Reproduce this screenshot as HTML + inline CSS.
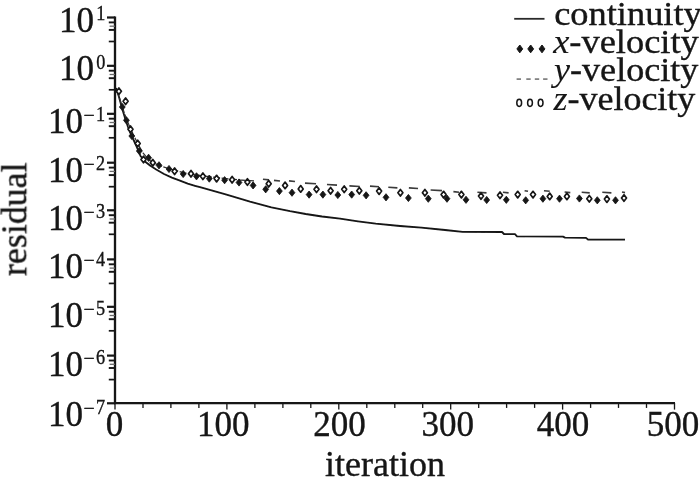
<!DOCTYPE html>
<html><head><meta charset="utf-8"><title>residual</title>
<style>html,body{margin:0;padding:0;background:#fff;}body{width:700px;height:477px;overflow:hidden;}svg{display:block;}text{font-family:"Liberation Serif",serif;fill:#141414;stroke:#141414;stroke-width:0.35px;}</style>
</head><body>
<svg width="700" height="477" viewBox="0 0 700 477">
<defs><filter id="bl" x="-5%" y="-5%" width="110%" height="110%"><feGaussianBlur stdDeviation="0.45"/></filter></defs>
<rect width="700" height="477" fill="#fff"/>
<g filter="url(#bl)">
<line x1="115.0" y1="16.599999999999998" x2="115.0" y2="404" stroke="#141414" stroke-width="2.3"/>
<line x1="114.0" y1="403.2" x2="675" y2="403.2" stroke="#141414" stroke-width="2.2"/>
<line x1="115.0" y1="403" x2="115.0" y2="409.6" stroke="#141414" stroke-width="1.3"/>
<line x1="143.0" y1="403" x2="143.0" y2="407.9" stroke="#141414" stroke-width="1.3"/>
<line x1="170.9" y1="403" x2="170.9" y2="407.9" stroke="#141414" stroke-width="1.3"/>
<line x1="198.9" y1="403" x2="198.9" y2="407.9" stroke="#141414" stroke-width="1.3"/>
<line x1="226.9" y1="403" x2="226.9" y2="409.6" stroke="#141414" stroke-width="1.3"/>
<line x1="254.9" y1="403" x2="254.9" y2="407.9" stroke="#141414" stroke-width="1.3"/>
<line x1="282.9" y1="403" x2="282.9" y2="407.9" stroke="#141414" stroke-width="1.3"/>
<line x1="310.8" y1="403" x2="310.8" y2="407.9" stroke="#141414" stroke-width="1.3"/>
<line x1="338.8" y1="403" x2="338.8" y2="409.6" stroke="#141414" stroke-width="1.3"/>
<line x1="366.8" y1="403" x2="366.8" y2="407.9" stroke="#141414" stroke-width="1.3"/>
<line x1="394.8" y1="403" x2="394.8" y2="407.9" stroke="#141414" stroke-width="1.3"/>
<line x1="422.7" y1="403" x2="422.7" y2="407.9" stroke="#141414" stroke-width="1.3"/>
<line x1="450.7" y1="403" x2="450.7" y2="409.6" stroke="#141414" stroke-width="1.3"/>
<line x1="478.7" y1="403" x2="478.7" y2="407.9" stroke="#141414" stroke-width="1.3"/>
<line x1="506.6" y1="403" x2="506.6" y2="407.9" stroke="#141414" stroke-width="1.3"/>
<line x1="534.6" y1="403" x2="534.6" y2="407.9" stroke="#141414" stroke-width="1.3"/>
<line x1="562.6" y1="403" x2="562.6" y2="409.6" stroke="#141414" stroke-width="1.3"/>
<line x1="590.6" y1="403" x2="590.6" y2="407.9" stroke="#141414" stroke-width="1.3"/>
<line x1="618.5" y1="403" x2="618.5" y2="407.9" stroke="#141414" stroke-width="1.3"/>
<line x1="646.5" y1="403" x2="646.5" y2="407.9" stroke="#141414" stroke-width="1.3"/>
<line x1="674.5" y1="403" x2="674.5" y2="409.6" stroke="#141414" stroke-width="1.3"/>
<line x1="107" y1="17.5" x2="115.0" y2="17.5" stroke="#141414" stroke-width="2.2"/>
<line x1="108.8" y1="22.4" x2="115.0" y2="22.4" stroke="#141414" stroke-width="1.9"/>
<line x1="109.6" y1="26.2" x2="115.0" y2="26.2" stroke="#6a6a6a" stroke-width="1.3"/>
<line x1="108.8" y1="29.9" x2="115.0" y2="29.9" stroke="#141414" stroke-width="1.9"/>
<line x1="108.8" y1="41.5" x2="115.0" y2="41.5" stroke="#141414" stroke-width="1.7"/>
<line x1="107" y1="65.8" x2="115.0" y2="65.8" stroke="#141414" stroke-width="2.2"/>
<line x1="108.8" y1="70.7" x2="115.0" y2="70.7" stroke="#141414" stroke-width="1.9"/>
<line x1="109.6" y1="74.5" x2="115.0" y2="74.5" stroke="#6a6a6a" stroke-width="1.3"/>
<line x1="108.8" y1="78.2" x2="115.0" y2="78.2" stroke="#141414" stroke-width="1.9"/>
<line x1="108.8" y1="89.8" x2="115.0" y2="89.8" stroke="#141414" stroke-width="1.7"/>
<line x1="107" y1="113.8" x2="115.0" y2="113.8" stroke="#141414" stroke-width="2.2"/>
<line x1="108.8" y1="118.7" x2="115.0" y2="118.7" stroke="#141414" stroke-width="1.9"/>
<line x1="109.6" y1="122.5" x2="115.0" y2="122.5" stroke="#6a6a6a" stroke-width="1.3"/>
<line x1="108.8" y1="126.2" x2="115.0" y2="126.2" stroke="#141414" stroke-width="1.9"/>
<line x1="108.8" y1="137.8" x2="115.0" y2="137.8" stroke="#141414" stroke-width="1.7"/>
<line x1="107" y1="162.7" x2="115.0" y2="162.7" stroke="#141414" stroke-width="2.2"/>
<line x1="108.8" y1="167.6" x2="115.0" y2="167.6" stroke="#141414" stroke-width="1.9"/>
<line x1="109.6" y1="171.4" x2="115.0" y2="171.4" stroke="#6a6a6a" stroke-width="1.3"/>
<line x1="108.8" y1="175.1" x2="115.0" y2="175.1" stroke="#141414" stroke-width="1.9"/>
<line x1="108.8" y1="186.7" x2="115.0" y2="186.7" stroke="#141414" stroke-width="1.7"/>
<line x1="107" y1="210.3" x2="115.0" y2="210.3" stroke="#141414" stroke-width="2.2"/>
<line x1="108.8" y1="215.2" x2="115.0" y2="215.2" stroke="#141414" stroke-width="1.9"/>
<line x1="109.6" y1="219.0" x2="115.0" y2="219.0" stroke="#6a6a6a" stroke-width="1.3"/>
<line x1="108.8" y1="222.7" x2="115.0" y2="222.7" stroke="#141414" stroke-width="1.9"/>
<line x1="108.8" y1="234.3" x2="115.0" y2="234.3" stroke="#141414" stroke-width="1.7"/>
<line x1="107" y1="259.4" x2="115.0" y2="259.4" stroke="#141414" stroke-width="2.2"/>
<line x1="108.8" y1="264.3" x2="115.0" y2="264.3" stroke="#141414" stroke-width="1.9"/>
<line x1="109.6" y1="268.1" x2="115.0" y2="268.1" stroke="#6a6a6a" stroke-width="1.3"/>
<line x1="108.8" y1="271.8" x2="115.0" y2="271.8" stroke="#141414" stroke-width="1.9"/>
<line x1="108.8" y1="283.4" x2="115.0" y2="283.4" stroke="#141414" stroke-width="1.7"/>
<line x1="107" y1="306.8" x2="115.0" y2="306.8" stroke="#141414" stroke-width="2.2"/>
<line x1="108.8" y1="311.7" x2="115.0" y2="311.7" stroke="#141414" stroke-width="1.9"/>
<line x1="109.6" y1="315.5" x2="115.0" y2="315.5" stroke="#6a6a6a" stroke-width="1.3"/>
<line x1="108.8" y1="319.2" x2="115.0" y2="319.2" stroke="#141414" stroke-width="1.9"/>
<line x1="108.8" y1="330.8" x2="115.0" y2="330.8" stroke="#141414" stroke-width="1.7"/>
<line x1="107" y1="355.6" x2="115.0" y2="355.6" stroke="#141414" stroke-width="2.2"/>
<line x1="108.8" y1="360.5" x2="115.0" y2="360.5" stroke="#141414" stroke-width="1.9"/>
<line x1="109.6" y1="364.3" x2="115.0" y2="364.3" stroke="#6a6a6a" stroke-width="1.3"/>
<line x1="108.8" y1="368.0" x2="115.0" y2="368.0" stroke="#141414" stroke-width="1.9"/>
<line x1="108.8" y1="379.6" x2="115.0" y2="379.6" stroke="#141414" stroke-width="1.7"/>
<line x1="107" y1="403.3" x2="115.0" y2="403.3" stroke="#141414" stroke-width="2.2"/>
<text x="59" y="31.8" font-size="35">10</text>
<text transform="translate(96.2,20.3) scale(0.92,1.09)" font-size="19.8">1</text>
<text x="59" y="80.3" font-size="35">10</text>
<text transform="translate(96.2,68.8) scale(0.92,1.09)" font-size="19.8">0</text>
<text x="48" y="133.2" font-size="35">10</text>
<text x="83.5" y="122.1" font-size="19.8">−</text>
<text transform="translate(95.9,121.2) scale(0.92,1.09)" font-size="19.8">1</text>
<text x="48" y="182.2" font-size="35">10</text>
<text x="83.5" y="171.1" font-size="19.8">−</text>
<text transform="translate(95.9,170.2) scale(0.92,1.09)" font-size="19.8">2</text>
<text x="48" y="230" font-size="35">10</text>
<text x="83.5" y="218.9" font-size="19.8">−</text>
<text transform="translate(95.9,218.0) scale(0.92,1.09)" font-size="19.8">3</text>
<text x="48" y="278.2" font-size="35">10</text>
<text x="83.5" y="267.09999999999997" font-size="19.8">−</text>
<text transform="translate(95.9,266.2) scale(0.92,1.09)" font-size="19.8">4</text>
<text x="48" y="327.2" font-size="35">10</text>
<text x="83.5" y="316.09999999999997" font-size="19.8">−</text>
<text transform="translate(95.9,315.2) scale(0.92,1.09)" font-size="19.8">5</text>
<text x="48" y="376.3" font-size="35">10</text>
<text x="83.5" y="365.2" font-size="19.8">−</text>
<text transform="translate(95.9,364.3) scale(0.92,1.09)" font-size="19.8">6</text>
<text x="48" y="425.6" font-size="35">10</text>
<text x="83.5" y="414.5" font-size="19.8">−</text>
<text transform="translate(95.9,413.6) scale(0.92,1.09)" font-size="19.8">7</text>
<text x="114.5" y="436.2" font-size="35" text-anchor="middle">0</text>
<text x="223.3" y="436.2" font-size="35" text-anchor="middle">100</text>
<text x="339.6" y="436.2" font-size="35" text-anchor="middle">200</text>
<text x="447.8" y="436.2" font-size="35" text-anchor="middle">300</text>
<text x="563" y="436.2" font-size="35" text-anchor="middle">400</text>
<text x="673" y="436.2" font-size="35" text-anchor="middle">500</text>
<text transform="translate(325.0,475.6) scale(1.03,1)" font-size="35">iteration</text>
<text transform="translate(26.3,219.2) rotate(-90) scale(1.025,1)" font-size="35" text-anchor="middle">residual</text>
<line x1="514.2" y1="18.8" x2="544.5" y2="18.8" stroke="#2a2a2a" stroke-width="1.8"/>
<text transform="translate(554.2,25.3) scale(1.0866,1)" font-size="33.5">continuity</text>
<path d="M519.8,45.0 L522.6999999999999,48.9 L519.8,52.8 L516.9,48.9 Z" fill="#141414" stroke="#141414" stroke-width="1" stroke-linejoin="round"/>
<path d="M530.7,45.0 L533.6,48.9 L530.7,52.8 L527.8000000000001,48.9 Z" fill="#141414" stroke="#141414" stroke-width="1" stroke-linejoin="round"/>
<path d="M542.0,45.0 L544.9,48.9 L542.0,52.8 L539.1,48.9 Z" fill="#141414" stroke="#141414" stroke-width="1" stroke-linejoin="round"/>
<text transform="translate(553.2,53.1) scale(1.0866,1)" font-size="33.5"><tspan font-style="italic" stroke-width="0.1">x</tspan>-velocity</text>
<line x1="516.5999999999999" y1="79.1" x2="521.0" y2="79.1" stroke="#7c7c7c" stroke-width="1.7"/>
<line x1="526.3" y1="79.1" x2="530.7" y2="79.1" stroke="#7c7c7c" stroke-width="1.7"/>
<line x1="534.8" y1="79.1" x2="539.2" y2="79.1" stroke="#7c7c7c" stroke-width="1.7"/>
<line x1="543.0999999999999" y1="79.1" x2="547.5" y2="79.1" stroke="#7c7c7c" stroke-width="1.7"/>
<text transform="translate(554,81.1) scale(1.078,1)" font-size="33.5"><tspan font-style="italic" stroke-width="0.1">y</tspan>-velocity</text>
<ellipse cx="519.2" cy="102.8" rx="2.4" ry="3.6" fill="#fff" stroke="#141414" stroke-width="1.5"/>
<ellipse cx="530.0" cy="102.8" rx="2.4" ry="3.6" fill="#fff" stroke="#141414" stroke-width="1.5"/>
<ellipse cx="540.6" cy="102.8" rx="2.4" ry="3.6" fill="#fff" stroke="#141414" stroke-width="1.5"/>
<text transform="translate(553.5,110.3) scale(1.074,1)" font-size="33.5"><tspan font-style="italic" stroke-width="0.1">z</tspan>-velocity</text>
<polyline fill="none" stroke="#141414" stroke-width="1.8" stroke-linejoin="round" points="116,88 119,97 122,108 125,118 128,127 131,134.5 135,143 138,150 140.5,156 145,161.5 150,165.5 156.2,169.5 164,174 171.9,177.6 180,180.6 187.7,183.6 195,185.8 200,187.2 225.7,194.4 250,201.6 271.4,207.4 290,211.2 305.7,214 322,216.5 340,218.6 358,221.3 375.7,223.6 400,226 421.4,227.7 445,230 462.6,231.8 502,232 504,234 515,234.2 517,236.3 563,236.6 565,237.6 586,237.8 588,239.6 625,239.7"/>
<line x1="263" y1="179.3" x2="269" y2="179.9" stroke="#3a3a3a" stroke-width="1.6"/>
<line x1="274" y1="180.4" x2="280" y2="181.0" stroke="#3a3a3a" stroke-width="1.6"/>
<line x1="289" y1="180.9" x2="295" y2="181.5" stroke="#3a3a3a" stroke-width="1.6"/>
<line x1="305" y1="183.1" x2="316" y2="183.7" stroke="#3a3a3a" stroke-width="1.6"/>
<line x1="327" y1="184.5" x2="337" y2="185.1" stroke="#3a3a3a" stroke-width="1.6"/>
<line x1="349.4" y1="185.9" x2="359.7" y2="186.5" stroke="#3a3a3a" stroke-width="1.6"/>
<line x1="370" y1="186.1" x2="379" y2="186.7" stroke="#3a3a3a" stroke-width="1.6"/>
<line x1="388.3" y1="187.3" x2="397.4" y2="187.9" stroke="#3a3a3a" stroke-width="1.6"/>
<line x1="408.9" y1="187.9" x2="418" y2="188.5" stroke="#3a3a3a" stroke-width="1.6"/>
<line x1="430.6" y1="190" x2="442" y2="190.6" stroke="#3a3a3a" stroke-width="1.6"/>
<line x1="453.4" y1="191.6" x2="459" y2="192.2" stroke="#3a3a3a" stroke-width="1.6"/>
<line x1="477.4" y1="192.3" x2="486.5" y2="192.9" stroke="#3a3a3a" stroke-width="1.6"/>
<line x1="502.9" y1="192.3" x2="508.6" y2="192.9" stroke="#3a3a3a" stroke-width="1.6"/>
<line x1="524.6" y1="190.7" x2="528" y2="191.29999999999998" stroke="#3a3a3a" stroke-width="1.6"/>
<line x1="544" y1="190.7" x2="549.7" y2="191.29999999999998" stroke="#3a3a3a" stroke-width="1.6"/>
<line x1="564.6" y1="192" x2="570.3" y2="192.6" stroke="#3a3a3a" stroke-width="1.6"/>
<line x1="581.7" y1="192.3" x2="589.7" y2="192.9" stroke="#3a3a3a" stroke-width="1.6"/>
<line x1="602.3" y1="192.3" x2="611.4" y2="192.9" stroke="#3a3a3a" stroke-width="1.6"/>
<line x1="622" y1="192" x2="625" y2="192.6" stroke="#3a3a3a" stroke-width="1.6"/>
<polyline fill="none" stroke="#333" stroke-width="1.3" stroke-dasharray="7 1.5" points="117,90 121,103 125,115 129,125 133,134 138,144 143,153 149,160 158,165 170,169 185,173 200,175.5 220,178 240,180 255,181"/>
<path d="M118.9,87.9 L121.4,91.2 L118.9,94.5 L116.4,91.2 Z" fill="#fff" stroke="#141414" stroke-width="1.7" stroke-linejoin="round"/>
<path d="M125.6,97.9 L128.1,101.2 L125.6,104.5 L123.1,101.2 Z" fill="#fff" stroke="#141414" stroke-width="1.7" stroke-linejoin="round"/>
<path d="M130.5,125.9 L133.0,129.2 L130.5,132.5 L128.0,129.2 Z" fill="#fff" stroke="#141414" stroke-width="1.7" stroke-linejoin="round"/>
<path d="M137.7,140.2 L140.2,143.5 L137.7,146.8 L135.2,143.5 Z" fill="#fff" stroke="#141414" stroke-width="1.7" stroke-linejoin="round"/>
<path d="M143.5,156.2 L146.0,159.5 L143.5,162.8 L141.0,159.5 Z" fill="#fff" stroke="#141414" stroke-width="1.7" stroke-linejoin="round"/>
<path d="M152.8,159.5 L155.3,162.8 L152.8,166.1 L150.3,162.8 Z" fill="#fff" stroke="#141414" stroke-width="1.7" stroke-linejoin="round"/>
<path d="M174.6,167.9 L177.1,171.2 L174.6,174.5 L172.1,171.2 Z" fill="#fff" stroke="#141414" stroke-width="1.7" stroke-linejoin="round"/>
<path d="M191,170.5 L193.5,173.8 L191,177.1 L188.5,173.8 Z" fill="#fff" stroke="#141414" stroke-width="1.7" stroke-linejoin="round"/>
<path d="M202.9,173.0 L205.4,176.3 L202.9,179.6 L200.4,176.3 Z" fill="#fff" stroke="#141414" stroke-width="1.7" stroke-linejoin="round"/>
<path d="M216.6,175.3 L219.1,178.6 L216.6,181.9 L214.1,178.6 Z" fill="#fff" stroke="#141414" stroke-width="1.7" stroke-linejoin="round"/>
<path d="M232.1,176.4 L234.6,179.7 L232.1,183.0 L229.6,179.7 Z" fill="#fff" stroke="#141414" stroke-width="1.7" stroke-linejoin="round"/>
<path d="M247.4,178.7 L249.9,182 L247.4,185.3 L244.9,182 Z" fill="#fff" stroke="#141414" stroke-width="1.7" stroke-linejoin="round"/>
<path d="M268.7,180.5 L271.2,183.8 L268.7,187.1 L266.2,183.8 Z" fill="#fff" stroke="#141414" stroke-width="1.7" stroke-linejoin="round"/>
<path d="M285.1,182.1 L287.6,185.4 L285.1,188.7 L282.6,185.4 Z" fill="#fff" stroke="#141414" stroke-width="1.7" stroke-linejoin="round"/>
<path d="M300.7,185.6 L303.2,188.9 L300.7,192.2 L298.2,188.9 Z" fill="#fff" stroke="#141414" stroke-width="1.7" stroke-linejoin="round"/>
<path d="M316.5,186.0 L319.0,189.3 L316.5,192.6 L314.0,189.3 Z" fill="#fff" stroke="#141414" stroke-width="1.7" stroke-linejoin="round"/>
<path d="M330.6,187.5 L333.1,190.8 L330.6,194.1 L328.1,190.8 Z" fill="#fff" stroke="#141414" stroke-width="1.7" stroke-linejoin="round"/>
<path d="M344.2,186.0 L346.7,189.3 L344.2,192.6 L341.7,189.3 Z" fill="#fff" stroke="#141414" stroke-width="1.7" stroke-linejoin="round"/>
<path d="M359.3,187.4 L361.8,190.7 L359.3,194.0 L356.8,190.7 Z" fill="#fff" stroke="#141414" stroke-width="1.7" stroke-linejoin="round"/>
<path d="M379.1,187.8 L381.6,191.1 L379.1,194.4 L376.6,191.1 Z" fill="#fff" stroke="#141414" stroke-width="1.7" stroke-linejoin="round"/>
<path d="M400.4,189.4 L402.9,192.7 L400.4,196.0 L397.9,192.7 Z" fill="#fff" stroke="#141414" stroke-width="1.7" stroke-linejoin="round"/>
<path d="M424.9,189.4 L427.4,192.7 L424.9,196.0 L422.4,192.7 Z" fill="#fff" stroke="#141414" stroke-width="1.7" stroke-linejoin="round"/>
<path d="M443.6,191.3 L446.1,194.6 L443.6,197.9 L441.1,194.6 Z" fill="#fff" stroke="#141414" stroke-width="1.7" stroke-linejoin="round"/>
<path d="M461.4,191.3 L463.9,194.6 L461.4,197.9 L458.9,194.6 Z" fill="#fff" stroke="#141414" stroke-width="1.7" stroke-linejoin="round"/>
<path d="M481,192.7 L483.5,196 L481,199.3 L478.5,196 Z" fill="#fff" stroke="#141414" stroke-width="1.7" stroke-linejoin="round"/>
<path d="M500,192.0 L502.5,195.3 L500,198.6 L497.5,195.3 Z" fill="#fff" stroke="#141414" stroke-width="1.7" stroke-linejoin="round"/>
<path d="M517.7,191.3 L520.2,194.6 L517.7,197.9 L515.2,194.6 Z" fill="#fff" stroke="#141414" stroke-width="1.7" stroke-linejoin="round"/>
<path d="M533,191.3 L535.5,194.6 L533,197.9 L530.5,194.6 Z" fill="#fff" stroke="#141414" stroke-width="1.7" stroke-linejoin="round"/>
<path d="M549.7,193.1 L552.2,196.4 L549.7,199.7 L547.2,196.4 Z" fill="#fff" stroke="#141414" stroke-width="1.7" stroke-linejoin="round"/>
<path d="M566.9,193.1 L569.4,196.4 L566.9,199.7 L564.4,196.4 Z" fill="#fff" stroke="#141414" stroke-width="1.7" stroke-linejoin="round"/>
<path d="M589.3,195.4 L591.8,198.7 L589.3,202.0 L586.8,198.7 Z" fill="#fff" stroke="#141414" stroke-width="1.7" stroke-linejoin="round"/>
<path d="M606.9,195.8 L609.4,199.1 L606.9,202.4 L604.4,199.1 Z" fill="#fff" stroke="#141414" stroke-width="1.7" stroke-linejoin="round"/>
<path d="M624,194.7 L626.5,198 L624,201.3 L621.5,198 Z" fill="#fff" stroke="#141414" stroke-width="1.7" stroke-linejoin="round"/>
<path d="M122.3,103.4 L125.2,107 L122.3,110.6 L119.4,107 Z" fill="#141414" stroke="#141414" stroke-width="0.8" stroke-linejoin="round"/>
<path d="M126.4,116.7 L129.3,120.3 L126.4,123.9 L123.5,120.3 Z" fill="#141414" stroke="#141414" stroke-width="0.8" stroke-linejoin="round"/>
<path d="M131.8,132.4 L134.7,136 L131.8,139.6 L128.9,136 Z" fill="#141414" stroke="#141414" stroke-width="0.8" stroke-linejoin="round"/>
<path d="M139.3,147.4 L142.2,151 L139.3,154.6 L136.4,151 Z" fill="#141414" stroke="#141414" stroke-width="0.8" stroke-linejoin="round"/>
<path d="M148.6,154.2 L151.5,157.8 L148.6,161.4 L145.7,157.8 Z" fill="#141414" stroke="#141414" stroke-width="0.8" stroke-linejoin="round"/>
<path d="M159,161.7 L161.9,165.3 L159,168.9 L156.1,165.3 Z" fill="#141414" stroke="#141414" stroke-width="0.8" stroke-linejoin="round"/>
<path d="M169,165.4 L171.9,169 L169,172.6 L166.1,169 Z" fill="#141414" stroke="#141414" stroke-width="0.8" stroke-linejoin="round"/>
<path d="M183.2,170.4 L186.1,174 L183.2,177.6 L180.3,174 Z" fill="#141414" stroke="#141414" stroke-width="0.8" stroke-linejoin="round"/>
<path d="M196.5,172.7 L199.4,176.3 L196.5,179.9 L193.6,176.3 Z" fill="#141414" stroke="#141414" stroke-width="0.8" stroke-linejoin="round"/>
<path d="M209.3,175.0 L212.2,178.6 L209.3,182.2 L206.4,178.6 Z" fill="#141414" stroke="#141414" stroke-width="0.8" stroke-linejoin="round"/>
<path d="M224.6,176.6 L227.5,180.2 L224.6,183.8 L221.7,180.2 Z" fill="#141414" stroke="#141414" stroke-width="0.8" stroke-linejoin="round"/>
<path d="M239,178.9 L241.9,182.5 L239,186.1 L236.1,182.5 Z" fill="#141414" stroke="#141414" stroke-width="0.8" stroke-linejoin="round"/>
<path d="M253.1,181.8 L256.0,185.4 L253.1,189.0 L250.2,185.4 Z" fill="#141414" stroke="#141414" stroke-width="0.8" stroke-linejoin="round"/>
<path d="M265.7,185.7 L268.6,189.3 L265.7,192.9 L262.8,189.3 Z" fill="#141414" stroke="#141414" stroke-width="0.8" stroke-linejoin="round"/>
<path d="M279.4,187.5 L282.3,191.1 L279.4,194.7 L276.5,191.1 Z" fill="#141414" stroke="#141414" stroke-width="0.8" stroke-linejoin="round"/>
<path d="M292,189.1 L294.9,192.7 L292,196.3 L289.1,192.7 Z" fill="#141414" stroke="#141414" stroke-width="0.8" stroke-linejoin="round"/>
<path d="M309.1,191.0 L312.0,194.6 L309.1,198.2 L306.2,194.6 Z" fill="#141414" stroke="#141414" stroke-width="0.8" stroke-linejoin="round"/>
<path d="M322.9,191.0 L325.8,194.6 L322.9,198.2 L320.0,194.6 Z" fill="#141414" stroke="#141414" stroke-width="0.8" stroke-linejoin="round"/>
<path d="M337.8,191.4 L340.7,195 L337.8,198.6 L334.9,195 Z" fill="#141414" stroke="#141414" stroke-width="0.8" stroke-linejoin="round"/>
<path d="M351.7,191.0 L354.6,194.6 L351.7,198.2 L348.8,194.6 Z" fill="#141414" stroke="#141414" stroke-width="0.8" stroke-linejoin="round"/>
<path d="M366.1,191.7 L369.0,195.3 L366.1,198.9 L363.2,195.3 Z" fill="#141414" stroke="#141414" stroke-width="0.8" stroke-linejoin="round"/>
<path d="M386,193.7 L388.9,197.3 L386,200.9 L383.1,197.3 Z" fill="#141414" stroke="#141414" stroke-width="0.8" stroke-linejoin="round"/>
<path d="M408.4,194.4 L411.3,198 L408.4,201.6 L405.5,198 Z" fill="#141414" stroke="#141414" stroke-width="0.8" stroke-linejoin="round"/>
<path d="M428.3,195.1 L431.2,198.7 L428.3,202.3 L425.4,198.7 Z" fill="#141414" stroke="#141414" stroke-width="0.8" stroke-linejoin="round"/>
<path d="M447,195.1 L449.9,198.7 L447,202.3 L444.1,198.7 Z" fill="#141414" stroke="#141414" stroke-width="0.8" stroke-linejoin="round"/>
<path d="M466,196.2 L468.9,199.8 L466,203.4 L463.1,199.8 Z" fill="#141414" stroke="#141414" stroke-width="0.8" stroke-linejoin="round"/>
<path d="M486.7,196.4 L489.6,200 L486.7,203.6 L483.8,200 Z" fill="#141414" stroke="#141414" stroke-width="0.8" stroke-linejoin="round"/>
<path d="M506.3,196.2 L509.2,199.8 L506.3,203.4 L503.4,199.8 Z" fill="#141414" stroke="#141414" stroke-width="0.8" stroke-linejoin="round"/>
<path d="M525.7,196.7 L528.6,200.3 L525.7,203.9 L522.8,200.3 Z" fill="#141414" stroke="#141414" stroke-width="0.8" stroke-linejoin="round"/>
<path d="M542.9,195.1 L545.8,198.7 L542.9,202.3 L540.0,198.7 Z" fill="#141414" stroke="#141414" stroke-width="0.8" stroke-linejoin="round"/>
<path d="M559.5,195.1 L562.4,198.7 L559.5,202.3 L556.6,198.7 Z" fill="#141414" stroke="#141414" stroke-width="0.8" stroke-linejoin="round"/>
<path d="M579.4,194.9 L582.3,198.5 L579.4,202.1 L576.5,198.5 Z" fill="#141414" stroke="#141414" stroke-width="0.8" stroke-linejoin="round"/>
<path d="M597.3,196.7 L600.2,200.3 L597.3,203.9 L594.4,200.3 Z" fill="#141414" stroke="#141414" stroke-width="0.8" stroke-linejoin="round"/>
<path d="M615.5,196.7 L618.4,200.3 L615.5,203.9 L612.6,200.3 Z" fill="#141414" stroke="#141414" stroke-width="0.8" stroke-linejoin="round"/>
</g>
</svg>
</body></html>
